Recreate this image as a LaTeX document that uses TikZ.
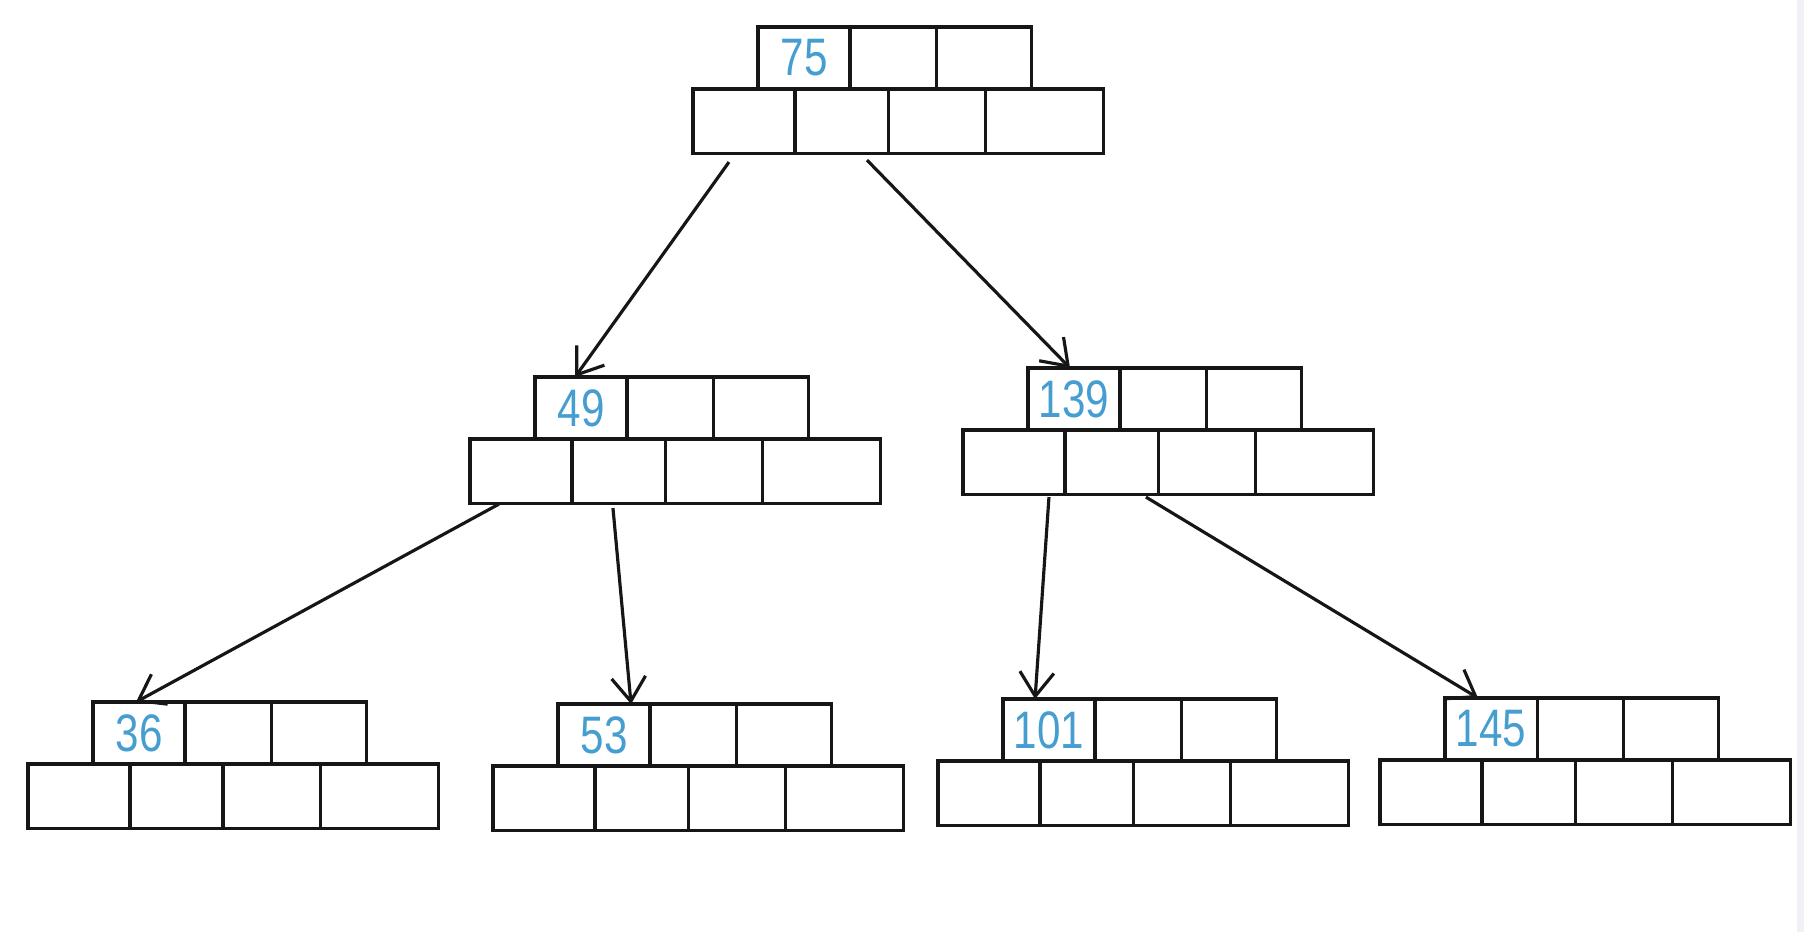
\documentclass[tikz,border=0pt]{standalone}
\usepackage{fontspec}
\newfontfamily\handfont[FakeStretch=0.8]{Liberation Sans}
\usepackage{xcolor}
\definecolor{inkblack}{RGB}{22,22,22}
\definecolor{handblue}{RGB}{70,158,208}
\definecolor{edgegray}{RGB}{240,240,245}
\usetikzlibrary{arrows.meta,positioning,calc}
\tikzset{
  keycell/.style={draw=inkblack, line width=0.9pt, minimum height=0.62cm,
                  inner sep=0pt, outer sep=0pt, text=handblue,
                  font=\handfont\fontsize{15}{18}\selectfont},
  ptrcell/.style={draw=inkblack, line width=0.9pt, minimum height=0.64cm,
                  inner sep=0pt, outer sep=0pt},
  link/.style={draw=inkblack, line width=0.9pt,
               -{Straight Barb[length=2.4mm,width=3.4mm]}},
}
% one B-tree node: three key cells on top, four pointer cells below
\newcommand{\btnode}[3]{%
  \node[keycell, minimum width=0.92cm, anchor=north west] (#1-k1) at (#2) {\raisebox{-1.5pt}{#3}};
  \node[keycell, minimum width=0.86cm, right=0pt of #1-k1] (#1-k2) {};
  \node[keycell, minimum width=0.95cm, right=0pt of #1-k2] (#1-k3) {};
  \node[ptrcell, minimum width=1.02cm, anchor=north west] (#1-p1) at ([xshift=-0.65cm]#1-k1.south west) {};
  \node[ptrcell, minimum width=0.93cm, right=0pt of #1-p1] (#1-p2) {};
  \node[ptrcell, minimum width=0.97cm, right=0pt of #1-p2] (#1-p3) {};
  \node[ptrcell, minimum width=1.18cm, right=0pt of #1-p3] (#1-p4) {};
}

\begin{document}
\begin{tikzpicture}[x=0.01cm, y=-0.01cm]
\useasboundingbox (0,0) rectangle (1804,932);
\fill[edgegray] (1797,0) rectangle (1804,932);

% root
\btnode{root}{758,27}{75}
% second level
\btnode{n49}{535,377}{49}
\btnode{n139}{1028,368}{139}
% leaves
\btnode{n36}{93,702}{36}
\btnode{n53}{558,704}{53}
\btnode{n101}{1003,699}{101}
\btnode{n145}{1445,698}{145}

% loose starts of the pointers
\coordinate (root-l) at ($(root-p1.south west)+(36,9)$);
\coordinate (root-r) at ($(root-p1.south west)+(174,7)$);
\coordinate (n49-l) at ($(n49-p1.south west)+(29,1)$);
\coordinate (n49-r) at ($(n49-p1.south west)+(143,5)$);
\coordinate (n139-l) at ($(n139-p1.south west)+(86,3)$);
\coordinate (n139-r) at ($(n139-p1.south west)+(183,3)$);

% pointers
\draw[link] (root-l) -- ($(n49-k1.north)+(-6,0)$);
\draw[link] (root-r) -- ($(n139-k1.north)+(-4,0)$);
\draw[link] (n49-l) -- ($(n36-k1.north)+(-3,0)$);
\draw[link] (n49-r) -- ($(n53-k1.north)+(27,0)$);
\draw[link] (n139-l) -- ($(n101-k1.north)+(-14,0)$);
\draw[link] (n139-r) -- ($(n145-k1.north)+(-13,0)$);
\end{tikzpicture}
\end{document}
